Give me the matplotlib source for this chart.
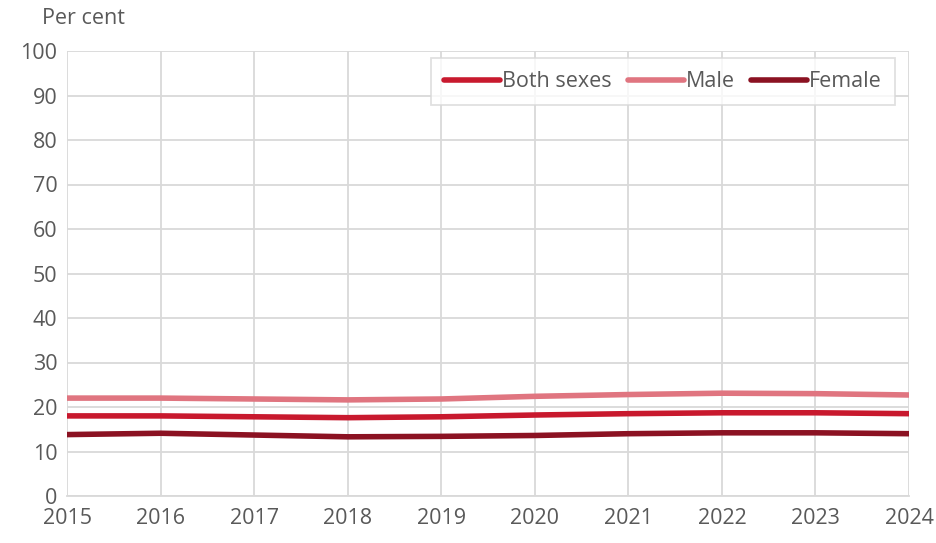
import matplotlib
matplotlib.use("Agg")
import matplotlib.pyplot as plt

years = [2015, 2016, 2017, 2018, 2019, 2020, 2021, 2022, 2023, 2024]
both = [18.0, 18.0, 17.8, 17.6, 17.8, 18.2, 18.5, 18.7, 18.7, 18.5]
male = [22.0, 22.0, 21.8, 21.6, 21.8, 22.4, 22.8, 23.1, 23.0, 22.7]
female = [13.8, 14.1, 13.7, 13.3, 13.4, 13.6, 14.0, 14.2, 14.2, 14.0]
yticks = list(range(0, 101, 10))

plt.rcParams['font.family'] = ['Open Sans', 'DejaVu Sans']
txt = '#595959'
grid = '#D9D9D9'
fs = 15.5

fig = plt.figure(figsize=(9.36, 5.43), dpi=100)
ax = fig.add_axes([67/936, 1-496/543, (909-67)/936, 445/543])

ax.plot(years, both, color='#C8192E', lw=4, label='Both sexes', solid_capstyle='round')
ax.plot(years, male, color='#E07580', lw=4, label='Male', solid_capstyle='round')
ax.plot(years, female, color='#8B1222', lw=4, label='Female', solid_capstyle='round')

ax.set_xlim(2015, 2024)
ax.set_ylim(0, 100)
ax.set_xticks(years)
ax.set_yticks(yticks)
ax.grid(True, color=grid, lw=1.3)
ax.set_axisbelow(True)
for s in ax.spines.values():
    s.set_visible(False)
ax.spines['bottom'].set_visible(True)
ax.spines['bottom'].set_color(grid)
ax.spines['bottom'].set_linewidth(1.3)
ax.tick_params(axis='both', colors=txt, labelsize=fs, length=0)
ax.tick_params(axis='x', pad=9)
ax.tick_params(axis='y', pad=7)

fig.text(42/936, 1-18/543, 'Per cent', color=txt, fontsize=fs, va='center', ha='left')

leg = ax.legend(loc='upper right', ncol=3, fontsize=fs, frameon=True, fancybox=False,
                edgecolor=grid, handlelength=2.6, handletextpad=0.1, columnspacing=0.75,
                borderpad=0.6, borderaxespad=0, bbox_to_anchor=(0.983, 0.984))
for t in leg.get_texts():
    t.set_color(txt)
leg.get_frame().set_linewidth(1.3)

fig.savefig('out.png', dpi=100)
